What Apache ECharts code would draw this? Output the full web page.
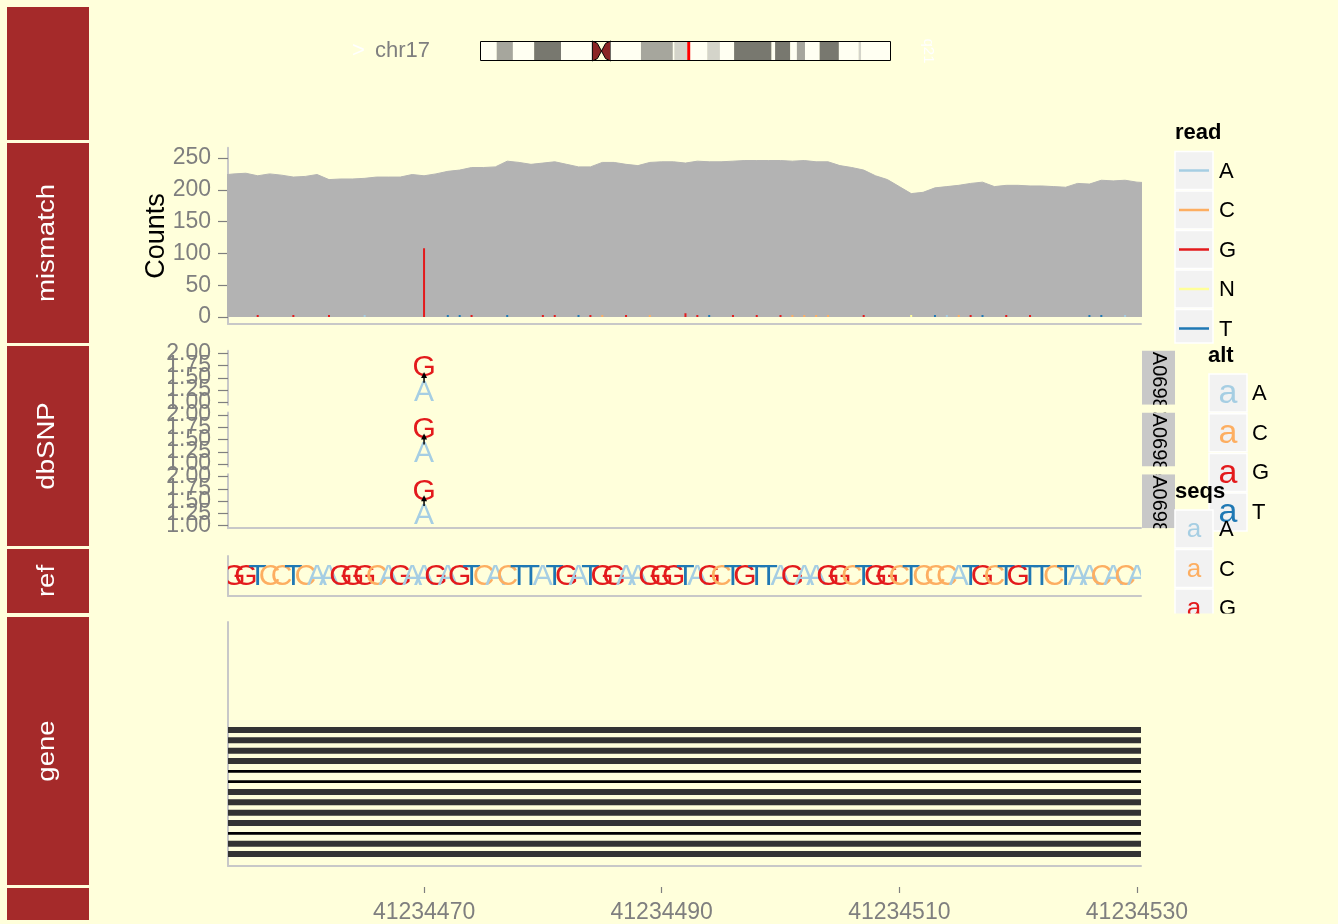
<!DOCTYPE html>
<html>
<head>
<meta charset="utf-8">
<script src="https://cdn.jsdelivr.net/npm/echarts@6/dist/echarts.min.js"></script>
<style>
html,body{margin:0;padding:0;background:#FFFFDB;}
#chart{width:1338px;height:924px;}
</style>
</head>
<body>
<div id="chart"></div>
<script>
// ---------------- data ----------------
const chromName = 'chr17';
const chromLength = 81195210;
const bandStart = [0,3300000,6500000,10700000,16000000,22200000,24000000,25800000,31800000,38100000,38400000,40900000,44900000,47400000,50200000,57600000,58300000,61300000,62600000,64200000,67100000,70900000,74800000,75300000];
const bandEnd = [3300000,6500000,10700000,16000000,22200000,24000000,25800000,31800000,38100000,38400000,40900000,44900000,47400000,50200000,57600000,58300000,61300000,62600000,64200000,67100000,70900000,74800000,75300000,81195210];
const bandName = ['p13.3','p13.2','p13.1','p12','p11.2','p11.1','q11.1','q11.2','q12','q21.1','q21.2','q21.31','q21.32','q21.33','q22','q23.1','q23.2','q23.3','q24.1','q24.2','q24.3','q25.1','q25.2','q25.3'];
const bandStain = ['gneg','gpos50','gneg','gpos75','gneg','acen','acen','gneg','gpos50','gneg','gpos25','gneg','gpos25','gneg','gpos75','gneg','gpos75','gneg','gpos50','gneg','gpos75','gneg','gpos25','gneg'];
const viewRange = [41234454, 41234530];

const xTicks = [41234470, 41234490, 41234510, 41234530];
const countTicks = [0, 50, 100, 150, 200, 250];
const snpTicksMain = [1, 1.5, 2];
const snpTicksMinor = [1.25, 1.75];

const coverageStart = 41234453;
const coverage = [223,
  225,226,222,225,223,220,221,224,216,217,
  217,218,220,220,220,224,222,225,229,231,
  235,235,236,245,243,240,242,244,240,236,
  236,243,243,240,238,243,244,244,242,245,
  244,244,245,246,246,246,246,245,246,244,
  244,238,235,231,222,216,205,194,196,203,
  205,207,210,212,205,207,207,206,206,205,
  204,210,209,215,214,215,212,211];

const misPos = [41234456,41234459,41234462,41234465,41234470,41234472,41234473,41234474,41234477,41234480,41234481,41234483,41234484,41234485,41234487,41234489,41234492,41234493,41234494,41234496,41234498,41234500,41234501,41234502,41234503,41234504,41234507,41234511,41234513,41234514,41234515,41234516,41234517,41234519,41234521,41234526,41234527,41234529];
const misBase = ['G','G','G','A','G','T','T','G','T','G','G','T','G','C','G','C','G','G','T','G','G','G','C','C','C','C','G','N','T','A','C','G','T','G','G','T','T','A'];
const misCount = [2,2,2,1,108,2,2,3,2,2,2,2,2,2,2,2,6,2,2,2,3,2,1,1,2,1,2,2,2,2,3,2,2,2,2,1,2,2];

const snpIds = ['A06983', 'A06984', 'A06985'];
const snpPos = [41234470, 41234470, 41234470];
const snpRef = ['A', 'A', 'A'];
const snpAlt = ['G', 'G', 'G'];

const refStart = 41234454;
const refSeq = 'GGTCCTCAAGGGCAGAAGAGTCACTTATGATGGAAGGGTAGCTGTTAGAAGGCTGGCTCCCATGCTGTTCTAACACA';

const txType = ['exon','exon','exon','exon','intron','intron','exon','exon','exon','exon','intron','exon','exon'];
const exonRange = [41234421, 41234592];
const txRange = [41196312, 41277500];

const readBases = ['A','C','G','N','T'];
const altBases = ['A','C','G','T'];
const seqBases = ['A','C','G','T'];
const trackNames = ['', 'mismatch', 'dbSNP', 'ref', 'gene', ''];

// ---------------- style ----------------
const BG = '#FFFFDB';
const FONT = '"Liberation Sans", Arial, sans-serif';
const baseColor = {A:'#A6CEE3', C:'#FDAE61', G:'#E31A1C', N:'#FFFF99', T:'#1F78B4'};
const stainColor = {gneg:'#FFFFF2', gpos25:'#D4D4CA', gpos50:'#A6A69D', gpos75:'#78786F', acen:'#8B2525'};
const AXIS_LINE = {color:'#C8C8C8', width:2};
const TICK = {color:'#7F7F7F', width:1.2};
const AX_FONT = 23;
const X_MIN = 41234453.5, X_MAX = 41234530.34;
const PLOT_LEFT = 228, PLOT_W = 913;

const facetTop = [350.85, 412.55, 474.25];
const facetH = 53.9;
const stripRows = [[7,140],[143,343],[346,546],[549,613],[617,885],[888,920]];

// ---------------- grids & axes ----------------
const grids = [
  {left:480, top:41, width:411, height:20},
  {left:PLOT_LEFT, top:147.8, width:PLOT_W, height:176.2},
  {left:PLOT_LEFT, top:facetTop[0], width:PLOT_W, height:facetH},
  {left:PLOT_LEFT, top:facetTop[1], width:PLOT_W, height:facetH},
  {left:PLOT_LEFT, top:facetTop[2], width:PLOT_W, height:facetH},
  {left:PLOT_LEFT, top:556, width:PLOT_W, height:40},
  {left:PLOT_LEFT, top:622, width:PLOT_W, height:244},
  {left:PLOT_LEFT, top:880, width:PLOT_W, height:7}
];

function xa(g, showLine) {
  return {type:'value', gridIndex:g, min:X_MIN, max:X_MAX,
    axisLine:{show:!!showLine, onZero:false, lineStyle:AXIS_LINE},
    axisTick:{show:false}, axisLabel:{show:false}, splitLine:{show:false}};
}
const xAxes = [
  {type:'value', gridIndex:0, min:0, max:chromLength, show:false},
  xa(1,true), xa(2,false), xa(3,false), xa(4,true), xa(5,true), xa(6,true),
  {type:'value', gridIndex:7, min:X_MIN, max:X_MAX, position:'bottom',
    axisLine:{show:false},
    axisTick:{show:true, length:6, lineStyle:TICK, customValues:xTicks},
    axisLabel:{show:true, customValues:xTicks, formatter:v=>String(v), fontSize:AX_FONT, color:'#7F7F7F', fontFamily:FONT, margin:14},
    splitLine:{show:false}}
];
function snpY(g, ticks, showLine) {
  return {type:'value', gridIndex:g, position:'left', offset:0, min:0.95, max:2.05,
    axisLine:{show:showLine, onZero:false, lineStyle:AXIS_LINE},
    axisTick:{show:true, length:10, lineStyle:TICK, customValues:ticks},
    axisLabel:{show:true, hideOverlap:false, showMinLabel:true, showMaxLabel:true, customValues:ticks, formatter:v=>v.toFixed(2), fontSize:AX_FONT, color:'#7F7F7F', fontFamily:FONT, margin:17},
    splitLine:{show:false}};
}
const yAxes = [
  {type:'value', gridIndex:0, min:0, max:1, show:false},
  {type:'value', gridIndex:1, min:-11, max:266,
    axisLine:{show:true, onZero:false, lineStyle:AXIS_LINE},
    axisTick:{show:true, length:10, lineStyle:TICK, customValues:countTicks},
    axisLabel:{show:true, hideOverlap:false, showMinLabel:true, showMaxLabel:true, customValues:countTicks, fontSize:AX_FONT, color:'#7F7F7F', fontFamily:FONT, margin:17},
    splitLine:{show:false},
    name:'Counts', nameLocation:'middle', nameGap:58, nameMoveOverlap:false, nameTextStyle:{fontSize:27, color:'#000', fontFamily:FONT}},
  snpY(2, snpTicksMain, true), snpY(3, snpTicksMain, true), snpY(4, snpTicksMain, true),
  {type:'value', gridIndex:5, min:0, max:2, axisLine:{show:true, onZero:false, lineStyle:AXIS_LINE}, axisTick:{show:false}, axisLabel:{show:false}, splitLine:{show:false}},
  {type:'value', gridIndex:6, min:-9.45, max:14.16, inverse:true, axisLine:{show:true, onZero:false, lineStyle:AXIS_LINE}, axisTick:{show:false}, axisLabel:{show:false}, splitLine:{show:false}},
  {type:'value', gridIndex:7, min:0, max:1, show:false},
  snpY(2, snpTicksMinor, false), snpY(3, snpTicksMinor, false), snpY(4, snpTicksMinor, false)
];

// ---------------- series ----------------
const series = [];

series.push({
  type:'custom', xAxisIndex:0, yAxisIndex:0, silent:true,
  data: bandStart.map((s,i)=>[s, bandEnd[i]]),
  renderItem(params, api){
    const i = params.dataIndex;
    const a = api.coord([api.value(0), 0]), b = api.coord([api.value(1), 1]);
    const x0 = a[0], x1 = b[0], yT = b[1], yB = a[1], yM = (yT+yB)/2, w = x1-x0, h = yB-yT;
    if (bandStain[i] === 'acen') {
      const pArm = bandName[i][0] === 'p';
      const pts = pArm
        ? [[x0,yT],[x0+0.55*w,yT+0.12*h],[x1,yM],[x0+0.55*w,yB-0.12*h],[x0,yB]]
        : [[x1,yT],[x1-0.55*w,yT+0.12*h],[x0,yM],[x1-0.55*w,yB-0.12*h],[x1,yB]];
      return {type:'polygon', shape:{points:pts}, style:{fill:stainColor.acen, stroke:'#000', lineWidth:1}};
    }
    return {type:'rect', shape:{x:x0, y:yT, width:w, height:h}, style:{fill:stainColor[bandStain[i]]}};
  }
});
series.push({
  type:'custom', xAxisIndex:0, yAxisIndex:0, silent:true, z:3,
  data:[[0, chromLength]],
  renderItem(params, api){
    const a = api.coord([api.value(0), 0]), b = api.coord([api.value(1), 1]);
    return {type:'rect', shape:{x:a[0]+0.5, y:b[1]+0.5, width:b[0]-a[0]-1, height:a[1]-b[1]-1}, style:{fill:null, stroke:'#000', lineWidth:1}};
  }
});
series.push({
  type:'custom', xAxisIndex:0, yAxisIndex:0, silent:true, z:4,
  data:[[viewRange[0], viewRange[1]]],
  renderItem(params, api){
    const a = api.coord([api.value(0), 0]), b = api.coord([api.value(1), 1]);
    const cx = (a[0]+b[0])/2;
    return {type:'rect', shape:{x:cx-1.5, y:b[1]+1, width:3, height:a[1]-b[1]-2}, style:{fill:'#FF0000'}};
  }
});

series.push({
  type:'line', xAxisIndex:1, yAxisIndex:1, silent:true, symbol:'none', clip:true,
  data: coverage.map((v,i)=>[coverageStart+i, v]),
  lineStyle:{color:'#B3B3B3', width:1},
  areaStyle:{color:'#B3B3B3', opacity:1}
});
series.push({
  type:'custom', xAxisIndex:1, yAxisIndex:1, silent:true, clip:true, z:3,
  data: misPos.map((p,i)=>[p, misCount[i]]),
  renderItem(params, api){
    const i = params.dataIndex;
    const p0 = api.coord([api.value(0), 0]), p1 = api.coord([api.value(0), api.value(1)]);
    const h = Math.max(p0[1]-p1[1], 2);
    return {type:'rect', shape:{x:p0[0]-1, y:p0[1]-h, width:2, height:h}, style:{fill:baseColor[misBase[i]]}};
  }
});

for (let f = 0; f < 3; f++) {
  series.push({
    type:'custom', xAxisIndex:2+f, yAxisIndex:2+f, silent:true, clip:false,
    data:[[snpPos[f]]],
    renderItem(params, api){
      const x = api.value(0);
      const pr = api.coord([x, 1.2]), pa = api.coord([x, 1.7]);
      const a0 = api.coord([x, 1.40]), a1 = api.coord([x, 1.60]);
      return {type:'group', children:[
        {type:'text', x:pr[0], y:pr[1], style:{text:snpRef[f], fill:baseColor[snpRef[f]], fontSize:30, fontFamily:FONT, align:'center', verticalAlign:'middle'}},
        {type:'text', x:pa[0], y:pa[1], style:{text:snpAlt[f], fill:baseColor[snpAlt[f]], fontSize:30, fontFamily:FONT, align:'center', verticalAlign:'middle'}},
        {type:'line', shape:{x1:a0[0], y1:a0[1], x2:a1[0], y2:a1[1]+3}, style:{stroke:'#000', lineWidth:1.5}},
        {type:'polygon', shape:{points:[[a1[0]-3,a1[1]+5],[a1[0]+3,a1[1]+5],[a1[0],a1[1]-1]]}, style:{fill:'#000'}}
      ]};
    }
  });
}

series.push({
  type:'custom', xAxisIndex:5, yAxisIndex:5, silent:true, clip:true,
  data: refSeq.split('').map((b,i)=>[refStart+i, 1]),
  renderItem(params, api){
    const b = refSeq[params.dataIndex];
    const p = api.coord([api.value(0), api.value(1)]);
    return {type:'text', x:p[0], y:p[1]+1, style:{text:b, fill:baseColor[b], fontSize:30, fontFamily:FONT, align:'center', verticalAlign:'middle'}};
  }
});

series.push({
  type:'custom', xAxisIndex:6, yAxisIndex:6, silent:true, clip:true,
  data: txType.map((t,i)=> t==='exon' ? [exonRange[0], exonRange[1], i+1] : [txRange[0], txRange[1], i+1]),
  renderItem(params, api){
    const t = txType[params.dataIndex];
    const a = api.coord([api.value(0), api.value(2)]), b = api.coord([api.value(1), api.value(2)]);
    const h = t==='exon' ? 6 : 2.6;
    const rect = echarts.graphic.clipRectByRect(
      {x:a[0], y:a[1]-h/2, width:b[0]-a[0], height:h},
      {x:params.coordSys.x, y:params.coordSys.y, width:params.coordSys.width, height:params.coordSys.height});
    return rect && {type:'rect', shape:rect, style:{fill: t==='exon' ? '#333333' : '#000000'}};
  }
});

// ---------------- graphic ----------------
const graphic = [];
stripRows.forEach((r,i)=>{
  graphic.push({type:'rect', shape:{x:7, y:r[0], width:82, height:r[1]-r[0]}, style:{fill:'#A52A2A'}, silent:true});
  if (trackNames[i]) graphic.push({type:'text', x:48, y:(r[0]+r[1])/2, rotation:Math.PI/2, scaleX:1.2,
    style:{text:trackNames[i], fill:'#FFFFFF', fontSize:23, fontFamily:FONT, align:'center', verticalAlign:'middle', textAlign:'center', textVerticalAlign:'middle'}, silent:true});
});
graphic.push({type:'text', x:352, y:51, style:{text:'>', fill:'#FFFFFF', fontSize:22, fontFamily:FONT, align:'left', verticalAlign:'middle', textAlign:'left', textVerticalAlign:'middle'}});
graphic.push({type:'text', x:375, y:51, style:{text:chromName, fill:'#7F7F7F', fontSize:22, fontFamily:FONT, align:'left', verticalAlign:'middle', textAlign:'left', textVerticalAlign:'middle'}});
graphic.push({type:'text', x:928, y:51, rotation:-Math.PI/2, style:{text:'q21', fill:'#FFFFFF', fontSize:15, fontFamily:FONT, align:'center', verticalAlign:'middle', textAlign:'center', textVerticalAlign:'middle'}});

function txt(x, y, s, opts) {
  return {type:'text', x:x, y:y, silent:true, style:Object.assign({text:s, fill:'#000', fontSize:22, fontFamily:FONT, align:'left', verticalAlign:'middle', textAlign:'left', textVerticalAlign:'middle'}, opts||{})};
}
graphic.push(txt(1175, 133, 'read', {fontWeight:'bold'}));
readBases.forEach((b,i)=>{
  const y = 151.5 + 39.5*i;
  const h = Math.min(38, 343 - y);
  graphic.push({type:'rect', shape:{x:1175, y:y, width:38, height:h}, style:{fill:'#F2F2F2', stroke:'#FFFFFF', lineWidth:1.5}, silent:true});
  graphic.push({type:'line', shape:{x1:1179, y1:y+19, x2:1209, y2:y+19}, style:{stroke:baseColor[b], lineWidth:2.5}, silent:true});
  graphic.push(txt(1219, y+20, b));
});
facetTop.forEach((t,f)=>{
  graphic.push({type:'rect', shape:{x:1142, y:t, width:33, height:facetH}, style:{fill:'#C8C8C8'}, silent:true});
  const el = txt(1159, t+1, snpIds[f], {fontSize:20});
  el.rotation = -Math.PI/2;
  graphic.push(el);
});
[[facetTop[0]+facetH, facetTop[1]], [facetTop[1]+facetH, facetTop[2]], [facetTop[2]+facetH, 548]].forEach(g=>{
  graphic.push({type:'rect', shape:{x:1141.5, y:g[0], width:34, height:g[1]-g[0]}, style:{fill:BG}, silent:true});
});
graphic.push(txt(1208, 356, 'alt', {fontWeight:'bold'}));
altBases.forEach((b,i)=>{
  const y = 374 + 39.7*i;
  graphic.push({type:'rect', shape:{x:1209, y:y, width:38, height:38}, style:{fill:'#F2F2F2', stroke:'#FFFFFF', lineWidth:1.5}, silent:true});
  graphic.push(txt(1228, y+20, 'a', {fill:baseColor[b], fontSize:34, align:'center', textAlign:'center'}));
  graphic.push(txt(1252, y+20, b));
});
graphic.push(txt(1175, 492, 'seqs', {fontWeight:'bold'}));
seqBases.forEach((b,i)=>{
  const y = 510 + 39.5*i;
  graphic.push({type:'rect', shape:{x:1175, y:y, width:38, height:38}, style:{fill:'#F2F2F2', stroke:'#FFFFFF', lineWidth:1.5}, silent:true});
  graphic.push(txt(1194, y+20, 'a', {fill:baseColor[b], fontSize:26, align:'center', textAlign:'center'}));
  graphic.push(txt(1219, y+20, b));
});
graphic.push({type:'rect', shape:{x:1165, y:613.5, width:110, height:60}, style:{fill:BG}, silent:true});

// ---------------- render ----------------
const chart = echarts.init(document.getElementById('chart'), null, {renderer:'canvas'});
chart.setOption({
  backgroundColor: BG,
  animation: false,
  grid: grids,
  xAxis: xAxes,
  yAxis: yAxes,
  series: series,
  graphic: {elements: graphic}
});
</script>
</body>
</html>
